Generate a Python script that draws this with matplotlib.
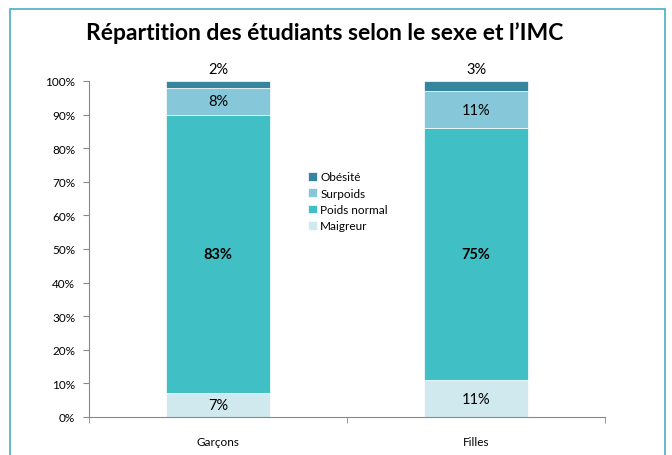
import numpy as np
import matplotlib.pyplot as plt
from matplotlib.patches import Rectangle

# données
groupes = ["Garçons", "Filles"]
categories = ["Maigreur", "Poids normal", "Surpoids", "Obésité"]
maigreur = [7, 11]
poids_normal = [83, 75]
surpoids = [8, 11]
obesite = [2, 3]

couleurs = ["#D0E9EF", "#40C0C4", "#86C7D9", "#35869C"]

plt.rcParams["font.family"] = ["Lato", "DejaVu Sans"]

fig = plt.figure(figsize=(6.72, 4.56), dpi=100)
ax = fig.add_axes([89 / 672, 1 - 418 / 456, 516 / 672, 336 / 456])

# cadre extérieur
fig.patches.append(Rectangle((10 / 672, -0.05), 655 / 672, 1 - 10 / 456 + 0.05,
                             transform=fig.transFigure, fill=False,
                             edgecolor="#4BACC6", linewidth=1.2))

x = np.arange(len(groupes))
largeur = 0.4
series = [maigreur, poids_normal, surpoids, obesite]
bas = np.zeros(len(groupes))
barres = []
for vals, coul, nom in zip(series, couleurs, categories):
    b = ax.bar(x, vals, largeur, bottom=bas, color=coul, label=nom,
               edgecolor="white", linewidth=0.5)
    barres.append(b)
    for i, v in enumerate(vals):
        if nom == "Obésité":
            ax.text(x[i], bas[i] + v + 1.5, f"{v}%", ha="center", va="bottom", fontsize=10.5)
        else:
            poids = "bold" if nom == "Poids normal" else "normal"
            ax.text(x[i], bas[i] + v / 2, f"{v}%", ha="center", va="center",
                    fontsize=10.5, fontweight=poids)
    bas += np.array(vals)

ax.set_xlim(-0.5, 1.5)
ax.set_ylim(0, 100)
ax.set_yticks(np.arange(0, 101, 10))
ax.set_yticklabels([f"{v}%" for v in range(0, 101, 10)], fontsize=8.5)
ax.set_xticks(x)
ax.set_xticklabels(groupes, fontsize=8.5)
ax.tick_params(axis="x", length=0, pad=14)
ax.set_xticks([-0.5, 0.5, 1.5], minor=True)
ax.tick_params(axis="x", which="minor", length=4, color="#888888")
ax.tick_params(axis="y", length=4, color="#888888", pad=6)
for s in ["top", "right"]:
    ax.spines[s].set_visible(False)
ax.spines["left"].set_color("#888888")
ax.spines["bottom"].set_color("#888888")

handles = barres[::-1]
labels = categories[::-1]
ax.legend(handles, labels, loc="upper left", bbox_to_anchor=(0.415, 0.745),
          frameon=False, fontsize=8.5, handlelength=0.75, handleheight=0.75,
          handletextpad=0.3, labelspacing=0.45, borderaxespad=0)

fig.text(325 / 672, 1 - 33 / 456, "Répartition des étudiants selon le sexe et l’IMC",
         ha="center", va="center", fontsize=16.5, fontweight="bold")

fig.savefig("out.png", dpi=100)
